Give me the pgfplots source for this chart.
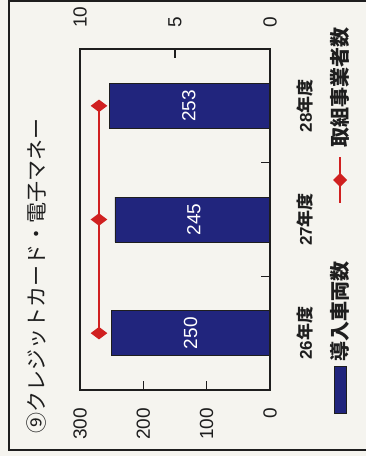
\documentclass[border=0pt]{standalone}
\usepackage{fontspec}
\setmainfont{Liberation Sans}
\newfontfamily\jp{Noto Sans CJK JP}
\usepackage{pgfplots}
\pgfplotsset{compat=1.18}
\definecolor{barblue}{RGB}{33,37,125}
\definecolor{linered}{RGB}{208,32,32}
\definecolor{bg}{RGB}{245,244,239}
\definecolor{txt}{RGB}{30,30,30}
\begin{document}
\begin{tikzpicture}[x=1pt,y=1pt]
\path[use as bounding box, fill=bg] (0,0) rectangle (366,456);
\draw[line width=1.2pt, txt] (366,455) -- (9,455) -- (9,6) -- (366,6);
\node[rotate=90, anchor=west, font=\jp\fontsize{21}{21}\selectfont, text=txt, inner sep=0pt] at (37,22) {⑨クレジットカード・電子マネー};

\begin{axis}[
  at={(80pt,66pt)}, anchor=south west,
  width=190pt, height=341pt, scale only axis,
  xbar, bar width=45pt,
  x dir=reverse, xmin=0, xmax=300,
  ymin=-0.5, ymax=2.5,
  xtick={0,100,200,300}, xtick pos=bottom, xtick align=inside,
  ytick={0.5,1.5}, yticklabels={}, ytick pos=right, ytick align=inside,
  extra y ticks={0,1,2},
  extra y tick labels={{\rmfamily 26}年度,{\rmfamily 27}年度,{\rmfamily 28}年度},
  extra y tick style={major tick length=0pt},
  major tick length=9pt,
  axis line style={line width=1.2pt, txt},
  tick style={line width=1.2pt, txt},
  /pgf/number format/assume math mode=true,
  xticklabel style={rotate=90, anchor=east, inner sep=0pt, font=\fontsize{19}{19}\selectfont, text=txt},
  xticklabel shift=18pt,
  yticklabel style={rotate=90, anchor=north, inner sep=0pt, font=\jp\bfseries\fontsize{17}{17}\selectfont, text=txt},
  yticklabel shift=27pt,
  yticklabel pos=right,
  nodes near coords,
  every node near coord/.append style={xshift=79pt, rotate=90, anchor=center, text=white, font=\fontsize{19}{19}\selectfont},
]
\addplot[fill=barblue, draw=txt, line width=0.6pt] coordinates {(250,0) (245,1) (253,2)};
\end{axis}

\begin{axis}[
  at={(80pt,66pt)}, anchor=south west,
  width=190pt, height=341pt, scale only axis,
  x dir=reverse, xmin=0, xmax=10,
  ymin=-0.5, ymax=2.5,
  xtick={0,5,10}, xtick pos=top, xticklabel pos=top, xtick align=inside,
  ytick=\empty,
  major tick length=9pt,
  axis line style={line width=1.2pt, txt},
  tick style={line width=1.2pt, txt},
  /pgf/number format/assume math mode=true,
  xticklabel style={rotate=90, anchor=west, inner sep=0pt, font=\fontsize{19}{19}\selectfont, text=txt},
  xticklabel shift=21pt,
]
\addplot[linered, line width=1.6pt, mark=diamond*, mark size=7pt, mark options={rotate=90}]
  coordinates {(9,0) (9,1) (9,2)};
\end{axis}

% legend (drawn rotated, as in the reference)
\draw[fill=barblue, draw=txt, line width=0.6pt] (334,43) rectangle (346,90);
\node[rotate=90, anchor=west, font=\jp\bfseries\fontsize{20}{20}\selectfont, text=txt, inner sep=0pt] at (340,94) {導入車両数};
\draw[linered, line width=1.6pt] (340,253) -- (340,299);
\fill[linered] (333,276) -- (340,283) -- (347,276) -- (340,269) -- cycle;
\node[rotate=90, anchor=west, font=\jp\bfseries\fontsize{20}{20}\selectfont, text=txt, inner sep=0pt] at (340,308) {取組事業者数};
\end{tikzpicture}
\end{document}
